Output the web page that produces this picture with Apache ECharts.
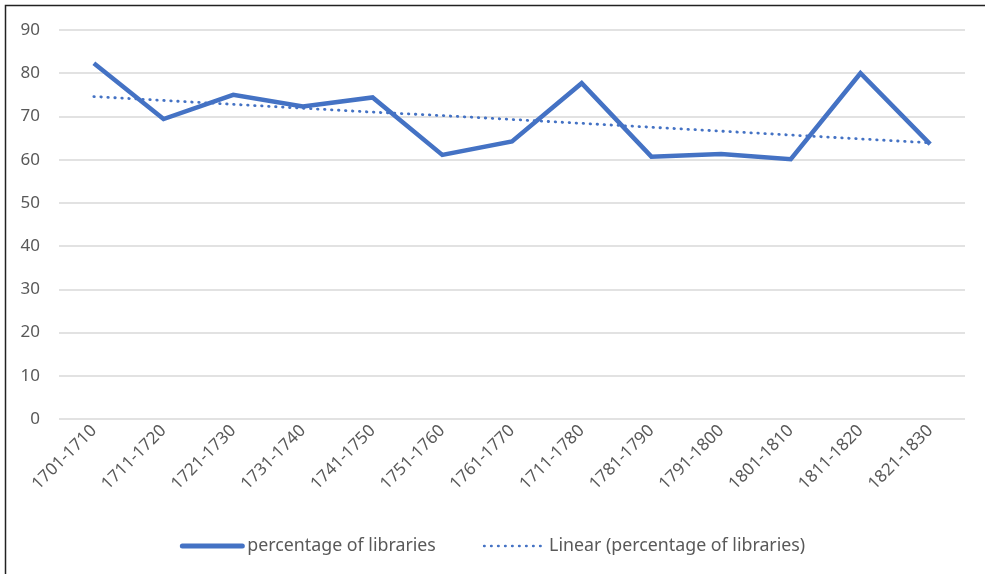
<!DOCTYPE html>
<html>
<head>
<meta charset="utf-8">
<script src="https://cdn.jsdelivr.net/npm/echarts@6/dist/echarts.min.js"></script>
<style>
  html, body { margin: 0; padding: 0; background: #fff; }
  #main { width: 985px; height: 574px; }
</style>
</head>
<body>
<div id="main"></div>
<script>
// decades (the 8th label reads "1711-1780" in the original)
const categories = ['1701-1710', '1711-1720', '1721-1730', '1731-1740', '1741-1750', '1751-1760',
    '1761-1770', '1711-1780', '1781-1790', '1791-1800', '1801-1810', '1811-1820', '1821-1830'];
// percentage of libraries
const percentValues = [82.3, 69.4, 75.0, 72.3, 74.4, 61.1, 64.2, 77.7, 60.7, 61.3, 60.1, 80.0, 63.6];
// linear trend line
const trendValues = [74.6, 73.7, 72.8, 71.9, 71.0, 70.2, 69.3, 68.4, 67.5, 66.6, 65.7, 64.8, 63.9];
const yTicks = { min: 0, max: 90, interval: 10 };

const blue = '#4472C4';
const textColor = '#595959';
const fontName = 'Noto Sans';

let myChart = echarts.init(document.getElementById('main'));
let option = {
    backgroundColor: '#fff',
    animation: false,
    textStyle: { fontFamily: fontName },
    graphic: [{
        type: 'rect',
        shape: { x: 5.5, y: 5.5, width: 1000, height: 600 },
        style: { fill: 'none', stroke: '#222', lineWidth: 1.5 },
        silent: true
    }],
    grid: { left: 59, right: 20, top: 30, bottom: 155 },
    legend: {
        bottom: 14,
        left: 'center',
        itemWidth: 60,
        itemHeight: 6,
        itemGap: 47,
        itemStyle: { opacity: 0 },
        textStyle: { color: textColor, fontSize: 17.8, fontFamily: fontName },
        data: [
            { name: 'percentage of libraries', lineStyle: { width: 5, cap: 'round' } },
            { name: 'Linear (percentage of libraries)', lineStyle: { width: 2.5 } }
        ]
    },
    xAxis: {
        type: 'category',
        data: categories,
        boundaryGap: true,
        axisLine: { show: false },
        axisTick: { show: false },
        axisLabel: { rotate: 45, color: textColor, fontSize: 17, margin: 9, interval: 0 }
    },
    yAxis: {
        type: 'value',
        min: yTicks.min,
        max: yTicks.max,
        interval: yTicks.interval,
        axisLine: { show: false },
        axisTick: { show: false },
        axisLabel: { color: textColor, fontSize: 17, margin: 19 },
        splitLine: { lineStyle: { color: '#D9D9D9', width: 1.5 } }
    },
    series: [
        {
            name: 'percentage of libraries',
            type: 'line',
            data: percentValues,
            symbol: 'none',
            lineStyle: { color: blue, width: 4.5, join: 'miter' },
            itemStyle: { color: blue }
        },
        {
            name: 'Linear (percentage of libraries)',
            type: 'line',
            data: trendValues,
            symbol: 'none',
            lineStyle: { color: blue, width: 2.8, type: [0.5, 6.5], cap: 'round' },
            itemStyle: { color: blue }
        }
    ]
};
myChart.setOption(option);
</script>
</body>
</html>
